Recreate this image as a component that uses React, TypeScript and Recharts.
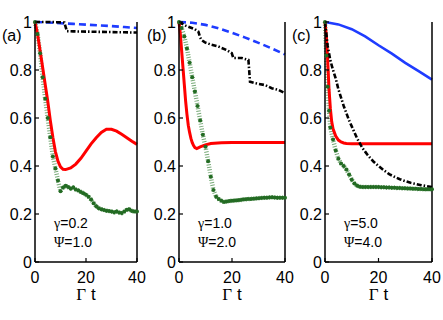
import React from 'react';
import { LineChart, Line, XAxis, YAxis } from 'recharts';

const yTicks = [0, 0.2, 0.4, 0.6, 0.8, 1];
const yTickLabels = ['0', '0.2', '0.4', '0.6', '0.8', '1'];
const xTicks = [0, 20, 40];
const panelLabels = ['(a)', '(b)', '(c)'];
const gammaLabels = ['0.2', '1.0', '5.0'];
const psiLabels = ['1.0', '2.0', '4.0'];

const stepT = [0, 1, 2, 3, 4, 5, 6, 7, 8, 9, 10, 11, 12, 13, 14, 15, 16, 17, 18, 19, 20,
  21, 22, 23, 24, 25, 26, 27, 28, 29, 30, 31, 32, 33, 34, 35, 36, 37, 38, 39, 40];

// (a) gamma=0.2, psi=1.0
const aBlueT = [0, 5, 10, 15, 20, 25, 30, 35, 40];
const aBlueV = [1.0, 0.998, 0.995, 0.992, 0.989, 0.986, 0.983, 0.979, 0.975];
const aBlackT = [0, 3, 6, 9, 11.5, 12.5, 15, 20, 25, 30, 35, 40];
const aBlackV = [1.0, 1.0, 1.0, 0.999, 0.998, 0.962, 0.961, 0.96, 0.959, 0.958, 0.957, 0.956];
const aRedT = [0, 1, 2, 3, 4, 5, 6, 7, 8, 9, 10, 11, 12, 14, 16, 18, 20, 22, 24, 26, 28, 30, 32, 34, 36, 38, 40];
const aRedV = [1.0, 0.95, 0.88, 0.81, 0.74, 0.67, 0.59, 0.52, 0.46, 0.42, 0.396, 0.386, 0.385, 0.392, 0.408,
  0.432, 0.462, 0.492, 0.518, 0.54, 0.553, 0.553, 0.545, 0.532, 0.518, 0.503, 0.49];
const aGreenV = [1.0, 0.95, 0.87, 0.77, 0.68, 0.6, 0.52, 0.44, 0.39, 0.34, 0.295, 0.31, 0.318, 0.312, 0.306,
  0.31, 0.302, 0.298, 0.292, 0.286, 0.28, 0.272, 0.26, 0.245, 0.232, 0.224, 0.22, 0.217, 0.214, 0.212,
  0.21, 0.207, 0.21, 0.206, 0.204, 0.21, 0.218, 0.22, 0.212, 0.21, 0.21];

// (b) gamma=1.0, psi=2.0
const bBlueT = [0, 5, 10, 15, 20, 25, 30, 35, 40];
const bBlueV = [1.0, 0.997, 0.988, 0.973, 0.955, 0.935, 0.913, 0.89, 0.865];
const bBlackT = [0, 2.5, 6, 7.3, 8, 8.5, 9.8, 12.3, 14.8, 18, 19.9, 20.5, 23.6, 26.2, 26.8, 28.7, 32.5, 35, 37.5, 40];
const bBlackV = [1.0, 0.985, 0.97, 0.96, 0.935, 0.925, 0.915, 0.905, 0.898, 0.883, 0.87, 0.85, 0.85, 0.842,
  0.751, 0.745, 0.737, 0.724, 0.717, 0.703];
const bRedT = [0, 0.5, 1, 1.5, 2, 2.5, 3, 3.5, 4, 4.5, 5, 5.5, 6, 6.7, 8, 10, 12, 16, 20, 30, 40];
const bRedV = [1.0, 0.95, 0.88, 0.81, 0.74, 0.67, 0.615, 0.57, 0.54, 0.515, 0.497, 0.485, 0.477, 0.473,
  0.48, 0.488, 0.494, 0.497, 0.498, 0.498, 0.498];
const bGreenV = [1.0, 0.975, 0.94, 0.89, 0.83, 0.77, 0.71, 0.65, 0.59, 0.53, 0.48, 0.42, 0.355, 0.3, 0.272,
  0.262, 0.255, 0.25, 0.252, 0.254, 0.255, 0.256, 0.257, 0.258, 0.26, 0.261, 0.262, 0.263, 0.264, 0.265,
  0.266, 0.267, 0.268, 0.268, 0.269, 0.27, 0.269, 0.268, 0.268, 0.268, 0.268];

// (c) gamma=5.0, psi=4.0
const cBlueT = [0, 5, 10, 15, 20, 25, 30, 35, 40];
const cBlueV = [1.0, 0.99, 0.97, 0.94, 0.903, 0.868, 0.83, 0.795, 0.76];
const cBlackT = [0, 0.5, 1, 2, 3, 4, 5, 6, 7, 8, 9, 10, 11, 12, 13, 14, 15, 16, 17, 18, 19, 20,
  22, 24, 26, 28, 30, 32, 34, 36, 38, 40];
const cBlackV = [1.0, 0.95, 0.9, 0.84, 0.8, 0.765, 0.72, 0.685, 0.65, 0.62, 0.59, 0.565, 0.54, 0.515, 0.495,
  0.475, 0.46, 0.445, 0.432, 0.42, 0.41, 0.4, 0.382, 0.366, 0.355, 0.345, 0.337, 0.33, 0.325, 0.32, 0.316, 0.312];
const cRedT = [0, 0.5, 1, 1.5, 2, 2.5, 3, 4, 5, 6, 7, 8, 10, 15, 20, 30, 40];
const cRedV = [1.0, 0.94, 0.84, 0.72, 0.64, 0.585, 0.555, 0.525, 0.508, 0.5, 0.496, 0.494, 0.493, 0.493,
  0.493, 0.493, 0.493];
const cGreenT = [0, 0.5, 1, 1.5, 2, 3, 4, 5, 6, 7, 8, 9, 10, 11, 12, 13, 14, 15, 16, 17, 18, 19, 20,
  21, 22, 23, 24, 25, 26, 27, 28, 29, 30, 31, 32, 33, 34, 35, 36, 37, 38, 39, 40];
const cGreenV = [1.0, 0.86, 0.73, 0.63, 0.56, 0.51, 0.465, 0.43, 0.41, 0.4, 0.385, 0.365, 0.343, 0.327, 0.318,
  0.314, 0.313, 0.313, 0.312, 0.313, 0.313, 0.312, 0.312, 0.311, 0.311, 0.31, 0.31, 0.309, 0.309, 0.308,
  0.308, 0.307, 0.307, 0.306, 0.306, 0.305, 0.305, 0.304, 0.304, 0.303, 0.303, 0.303, 0.303];

const zip = (t: number[], v: number[]) => t.map((x, i) => ({ t: x, v: v[i] }));

const SANS = 'Liberation Sans, Arial, Helvetica, sans-serif';
const SERIF = 'Liberation Serif, Times New Roman, serif';
const BLUE = '#1f3cff';
const RED = '#ff0000';
const GREEN_DARK = '#236b23';
const GREEN_LIGHT = '#78aa78';

const Y_MARGIN = 3;
const X_MARGIN = 9;
const TICK = 4;
const RIGHT_PAD = 12;

const LeftTick = (p: any) => {
  const i = yTicks.indexOf(p.payload.value);
  return (
    <g>
      <text x={p.x} y={p.y} dy="0.36em" textAnchor="end" fontSize={16} fontFamily={SANS} fill="#000">
        {yTickLabels[i]}
      </text>
      <line x1={p.x + Y_MARGIN} x2={p.x + Y_MARGIN + TICK} y1={p.y} y2={p.y} stroke="#000" strokeWidth={1.2} />
    </g>
  );
};

const RightTick = (p: any) => (
  <line x1={p.x - TICK} x2={p.x} y1={p.y} y2={p.y} stroke="#000" strokeWidth={1.2} />
);

const BottomTick = (p: any) => (
  <g>
    <text x={p.x} y={p.y} dy="0.72em" textAnchor="middle" fontSize={16} fontFamily={SANS} fill="#000">
      {p.payload.value}
    </text>
    <line x1={p.x} x2={p.x} y1={p.y - X_MARGIN} y2={p.y - X_MARGIN - TICK} stroke="#000" strokeWidth={1.2} />
  </g>
);

const TopTick = (p: any) => (
  <line x1={p.x} x2={p.x} y1={p.y} y2={p.y + TICK} stroke="#000" strokeWidth={1.2} />
);

interface PanelProps {
  left: number;
  plotLeft: number;
  plotRight: number;
  blue: { t: number; v: number }[];
  blueDashed: boolean;
  black: { t: number; v: number }[];
  red: { t: number; v: number }[];
  green: { t: number; v: number }[];
}

function Panel({ left, plotLeft, plotRight, blue, blueDashed, black, red, green }: PanelProps) {
  const width = plotRight - left + 4 + RIGHT_PAD;
  const axisLine = { stroke: '#000', strokeWidth: 1.5 };
  return (
    <div style={{ position: 'absolute', left, top: 0 }}>
      <LineChart width={width} height={320} margin={{ top: 22, right: RIGHT_PAD, bottom: 0, left: 0 }}>
        <XAxis xAxisId="b" dataKey="t" type="number" domain={[0, 40]} ticks={xTicks} interval={0}
          height={58} tickSize={0} tickMargin={X_MARGIN} tick={BottomTick} axisLine={axisLine} tickLine={false} />
        <XAxis xAxisId="top" orientation="top" dataKey="t" type="number" domain={[0, 40]} ticks={xTicks}
          interval={0} height={0} tickSize={0} tickMargin={0} tick={TopTick} axisLine={axisLine} tickLine={false} />
        <YAxis yAxisId="l" type="number" domain={[0, 1]} ticks={yTicks} interval={0} width={plotLeft - left}
          tickSize={0} tickMargin={Y_MARGIN} tick={LeftTick} axisLine={axisLine} tickLine={false} />
        <YAxis yAxisId="r" orientation="right" type="number" domain={[0, 1]} ticks={yTicks} interval={0}
          width={4} tickSize={0} tickMargin={0} tick={RightTick} axisLine={axisLine} tickLine={false} />
        <Line xAxisId="b" yAxisId="l" data={blue} dataKey="v" type="linear" stroke={BLUE} strokeWidth={2.6}
          strokeDasharray={blueDashed ? '7 4' : undefined} dot={false} isAnimationActive={false} />
        <Line xAxisId="b" yAxisId="l" data={green} dataKey="v" type="linear" stroke={GREEN_LIGHT} strokeWidth={4.5}
          strokeDasharray="1 1.6" dot={{ r: 2, fill: GREEN_DARK, stroke: 'none' }} isAnimationActive={false} />
        <Line xAxisId="b" yAxisId="l" data={red} dataKey="v" type="linear" stroke={RED} strokeWidth={3}
          dot={false} isAnimationActive={false} />
        <Line xAxisId="b" yAxisId="l" data={black} dataKey="v" type="linear" stroke="#000" strokeWidth={2.6}
          strokeDasharray="5 2 1.5 2" dot={false} isAnimationActive={false} />
      </LineChart>
    </div>
  );
}

const panels = [
  { left: 0, plotLeft: 35, plotRight: 137, blue: zip(aBlueT, aBlueV), blueDashed: true,
    black: zip(aBlackT, aBlackV), red: zip(aRedT, aRedV), green: zip(stepT, aGreenV) },
  { left: 145, plotLeft: 179, plotRight: 285, blue: zip(bBlueT, bBlueV), blueDashed: true,
    black: zip(bBlackT, bBlackV), red: zip(bRedT, bRedV), green: zip(stepT, bGreenV) },
  { left: 290, plotLeft: 325, plotRight: 432, blue: zip(cBlueT, cBlueV), blueDashed: false,
    black: zip(cBlackT, cBlackV), red: zip(cRedT, cRedV), green: zip(cGreenT, cGreenV) },
];

export default function App() {
  return (
    <div style={{ position: 'absolute', left: 0, top: 0, width: 443, height: 320, background: '#fff', overflow: 'hidden' }}>
      {panels.map((p, i) => (
        <Panel key={i} {...p} />
      ))}
      <svg width={443} height={320} style={{ position: 'absolute', left: 0, top: 0, pointerEvents: 'none' }}>
        {panels.map((p, i) => {
          const mid = (p.plotLeft + p.plotRight) / 2;
          const annX = p.plotLeft + 19;
          return (
            <g key={i}>
              <text x={p.left + 2} y={41} fontSize={16} fontFamily={SANS} fill="#000">{panelLabels[i]}</text>
              <text x={mid} y={300} textAnchor="middle" fontSize={17} fill="#000">
                <tspan fontFamily={SERIF}>Γ</tspan>
                <tspan fontFamily={SANS}> t</tspan>
              </text>
              <text x={annX} y={228} fontSize={14} fill="#000">
                <tspan fontFamily={SERIF}>γ</tspan>
                <tspan fontFamily={SANS}>={gammaLabels[i]}</tspan>
              </text>
              <text x={annX} y={247} fontSize={14} fill="#000">
                <tspan fontFamily={SERIF}>Ψ</tspan>
                <tspan fontFamily={SANS}>={psiLabels[i]}</tspan>
              </text>
            </g>
          );
        })}
      </svg>
    </div>
  );
}
